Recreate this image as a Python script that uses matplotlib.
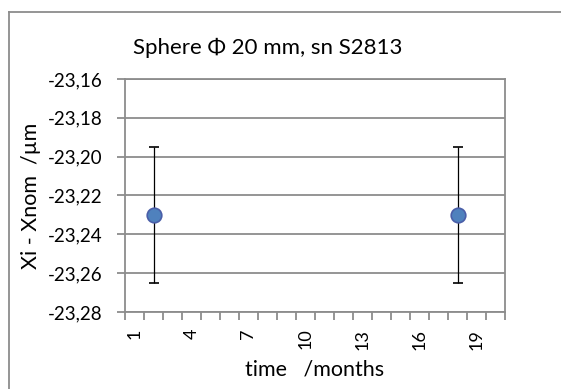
import numpy as np
import matplotlib.pyplot as plt
from matplotlib.lines import Line2D
from matplotlib.ticker import FuncFormatter, FixedLocator

# measurement data: month index, deviation and uncertainty (µm)
months = [2, 18]
deviation = [-23.23, -23.23]
uncertainty = [0.035, 0.035]

n_months = 20
label_months = [1, 4, 7, 10, 13, 16, 19]
y_ticks = [-23.28, -23.26, -23.24, -23.22, -23.20, -23.18, -23.16]

plt.rcParams['font.family'] = ['Lato', 'DejaVu Sans']
grid_col = '#8c8c8c'

fig = plt.figure(figsize=(5.61, 3.89), dpi=100)
ax = fig.add_axes([125 / 561, 1 - 312 / 389, 380 / 561, 233 / 389])

# outer chart frame (top and left edges visible)
fig.add_artist(Line2D([9 / 561, 1.0], [1 - 12 / 389] * 2, color='#8c8c8c', lw=1.3,
                      transform=fig.transFigure))
fig.add_artist(Line2D([9 / 561] * 2, [0.0, 1 - 12 / 389], color='#8c8c8c', lw=1.3,
                      transform=fig.transFigure))

ax.errorbar(months, deviation, yerr=uncertainty, fmt='o', color='black', ecolor='black',
            elinewidth=0.9, capsize=3.5, capthick=0.9, markersize=10.5,
            markerfacecolor='#4f81bd', markeredgecolor='#4a5ea8', markeredgewidth=1.2,
            zorder=3)

ax.set_xlim(0.5, n_months + 0.5)
ax.set_ylim(-23.28, -23.16)
ax.set_yticks(y_ticks)
ax.yaxis.set_major_formatter(FuncFormatter(lambda v, p: f"{v:.2f}".replace('.', ',')))
ax.grid(axis='y', color=grid_col, lw=1.3)
ax.set_axisbelow(True)

ax.xaxis.set_major_locator(FixedLocator(label_months))
ax.xaxis.set_minor_locator(FixedLocator(np.arange(0.5, n_months + 1)))
ax.set_xticklabels([str(m) for m in label_months], rotation=90)
ax.tick_params(axis='x', which='major', length=0, pad=12, labelsize=13)
ax.tick_params(axis='x', which='minor', length=6, color=grid_col, width=1.3)
ax.tick_params(axis='y', length=6, color=grid_col, width=1.3, labelsize=13.5, pad=10)

for s in ax.spines.values():
    s.set_color(grid_col)
    s.set_linewidth(1.3)

fig.text(268 / 561, 1 - 48 / 389, 'Sphere Φ 20 mm, sn S2813', fontsize=16,
         ha='center', va='center')
ax.set_xlabel('time   /months', fontsize=15.5, labelpad=7)
ax.set_ylabel('Xi - Xnom  /µm', fontsize=15.5, labelpad=5)

fig.savefig('out.png', dpi=100, facecolor='white')
